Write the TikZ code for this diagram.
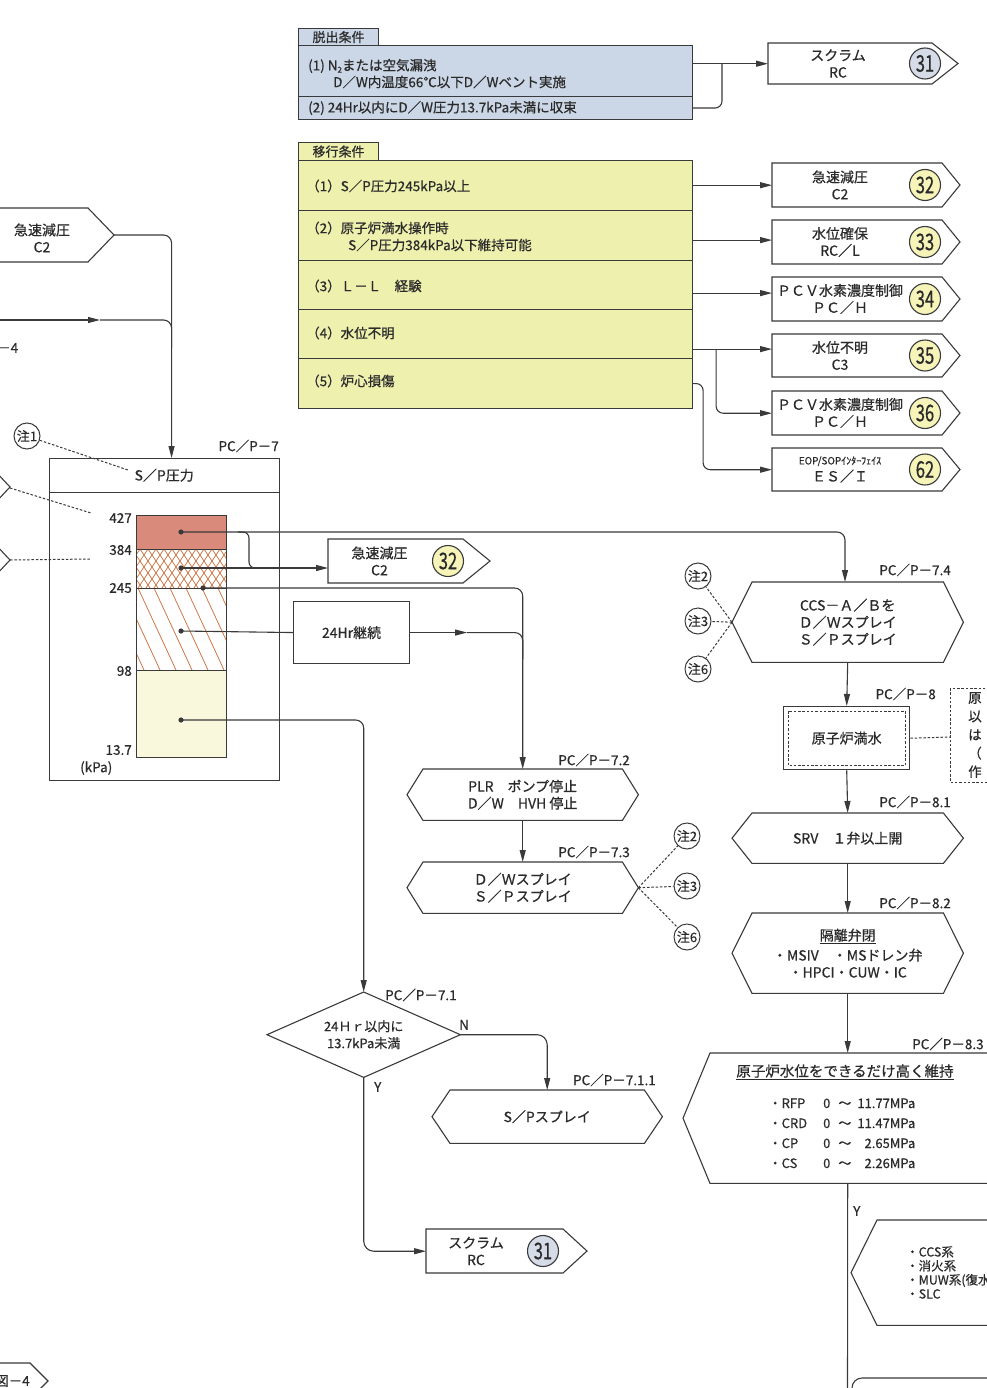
\documentclass[tikz,border=0pt]{standalone}
\usepackage{fontspec}
\usepackage{graphicx}
\setmainfont{Noto Sans CJK JP}[FakeBold=0.5]
\usetikzlibrary{arrows.meta,calc}
\definecolor{lc}{HTML}{3A3A3A}
\definecolor{tc}{HTML}{2A2A2A}
\definecolor{bluef}{HTML}{CBD7E6}
\definecolor{yelf}{HTML}{EEF0AE}
\definecolor{circb}{HTML}{D5DCE8}
\definecolor{circy}{HTML}{F6F4B8}
\definecolor{salmon}{HTML}{D98A7A}
\definecolor{hatch}{HTML}{D07848}
\definecolor{paley}{HTML}{F9F8DC}

\newcommand\offpg[9]{%
  \draw[ln, fill=white] (#2,#3) -- (#4,#3) -- (#6,{(#3+#5)/2}) -- (#4,#5) -- (#2,#5) -- cycle;
  \node[inner sep=0pt, minimum width={(#4-#2)*1pt}, minimum height={(#5-#3)*1pt}, anchor=north west] (#1) at (#2,#3) {};
  \node[txt] (#1-t) at ({(#2+#7-15)/2-1},{(#3+#5)/2}) {#8};
  \ifnum#9=31 \def\cf{circb}\else\def\cf{circy}\fi
  \node[numc, fill=\cf] (#1-n) at (#7,{(#3+#5)/2}) {\fontsize{23}{23}\selectfont\scalebox{0.72}[1]{#9}};
}
\newcommand\hexnode[7]{%
  \node[inner sep=0pt, minimum width={(#4-#2)*1pt}, minimum height={(#5-#3)*1pt}, anchor=north west] (#1) at (#2,#3) {};
  \draw[ln, fill=white] (#1.west) -- ($(#1.north west)+(#6,0)$) -- ($(#1.north east)+(-#6,0)$) -- (#1.east) -- ($(#1.south east)+(-#6,0)$) -- ($(#1.south west)+(#6,0)$) -- cycle;
  \node[txt] (#1-t) at (#1.center) {#7};
}

\begin{document}
\begin{tikzpicture}[x=1pt,y=-1pt,
  ln/.style={draw=lc, line width=1.1pt},
  arr/.style={ln, -{Triangle[length=12pt,width=6pt]}},
  dsh/.style={draw=lc, line width=1pt, dash pattern=on 2.5pt off 1.8pt},
  txt/.style={font=\fontsize{14}{17}\selectfont, text=tc, align=center, inner sep=0pt},
  ltxt/.style={font=\fontsize{13.5}{17}\selectfont, text=tc, align=left, inner sep=0pt, anchor=west},
  lbl/.style={font=\fontsize{13.5}{14}\selectfont, text=tc, inner sep=0pt},
  note/.style={circle, draw=lc, line width=1pt, fill=white, minimum size=26pt, inner sep=0pt, font=\fontsize{13}{12}\selectfont, text=tc},
  numc/.style={circle, draw=lc, line width=1.1pt, minimum size=31pt, inner sep=0pt, text=tc},
  rowbox/.style={draw=lc, line width=1.1pt, minimum width=394pt, inner sep=0pt, anchor=north west},
  tabbox/.style={draw=lc, line width=1.1pt, minimum width=80pt, minimum height=17pt, inner sep=0pt, anchor=north west, font=\fontsize{13}{13}\selectfont, text=tc},
  hl/.style={draw=hatch, line width=0.8pt}]

\useasboundingbox (0,0) rectangle (986,1388);
\fill[white] (0,0) rectangle (986,1388);

% ---------- 脱出条件 ----------
\node[tabbox, fill=bluef] (dtab) at (298,28) {脱出条件};
\node[rowbox, fill=bluef, minimum height=51pt] (e1) at (298,45) {};
\node[rowbox, fill=bluef, minimum height=23pt] (e2) at (298,96) {};
\node[ltxt] (e1a) at (308,66) {(1) N\raisebox{-0.3ex}{\fontsize{8}{8}\selectfont 2}または空気漏洩};
\node[ltxt] (e1b) at (333,82) {D／W内温度66℃以下D／Wベント実施};
\node[ltxt] (e2a) at (308,108) {(2) 24Hr以内にD／W圧力13.7kPa未満に収束};

\offpg{o31a}{768}{43}{932}{84}{958}{925}{スクラム\\RC}{31}
\draw[arr] (e1.east |- o31a.west) -- (o31a.west);
\draw[ln, rounded corners=7pt] (e2.east) -| ($(o31a.west)+(-46,0)$);

% ---------- 移行条件 ----------
\node[tabbox, fill=yelf, minimum height=18pt] (mtab) at (298,142) {移行条件};
\node[rowbox, fill=yelf, minimum height=50pt] (t1) at (298,160) {};
\node[rowbox, fill=yelf, minimum height=50pt] (t2) at (298,210) {};
\node[rowbox, fill=yelf, minimum height=49pt] (t3) at (298,260) {};
\node[rowbox, fill=yelf, minimum height=49pt] (t4) at (298,309) {};
\node[rowbox, fill=yelf, minimum height=50pt] (t5) at (298,358) {};
\node[ltxt] (t1t) at (306,186) {（1）S／P圧力245kPa以上};
\node[ltxt] (t2t) at (306,228) {（2）原子炉満水操作時};
\node[ltxt] (t2u) at (348,245) {S／P圧力384kPa以下維持可能};
\node[ltxt] (t3t) at (306,286) {（3）Ｌ－Ｌ　経験};
\node[ltxt] (t4t) at (306,333) {（4）水位不明};
\node[ltxt] (t5t) at (306,381) {（5）炉心損傷};

\offpg{o32a}{772}{163}{942}{207}{960}{925}{急速減圧\\C2}{32}
\offpg{o33}{772}{220}{942}{264}{960}{925}{水位確保\\RC／L}{33}
\offpg{o34}{772}{277}{942}{321}{960}{925}{ＰＣＶ水素濃度制御\\ＰＣ／Ｈ}{34}
\offpg{o35}{772}{334}{942}{377}{960}{925}{水位不明\\C3}{35}
\offpg{o36}{772}{391}{942}{435}{960}{925}{ＰＣＶ水素濃度制御\\ＰＣ／Ｈ}{36}
\offpg{o62}{772}{448}{942}{491}{960}{925}{{\fontsize{10}{12}\selectfont EOP/SOPｲﾝﾀｰﾌｪｲｽ}\\ＥＳ／Ｉ}{62}

\coordinate (r2o) at ($(t2.south east)+(0,-21)$);
\coordinate (r3o) at ($(t3.south east)+(0,-17)$);
\coordinate (r4o) at ($(t4.south east)+(0,-10)$);
\draw[arr] (t1.east |- o32a.west) -- (o32a.west);
\draw[arr] (r2o) -- (r2o -| o33.west);
\draw[arr] (r3o) -- (r3o -| o34.west);
\draw[arr] (r4o) -- (r4o -| o35.west);
\draw[arr, rounded corners=7pt] ($(r4o)+(23,0)$) |- (o36.west);
\draw[arr, rounded corners=7pt] (t5.east) -- ++(10,0) |- (o62.west);

% ---------- left side ----------
\draw[ln, fill=white] (-30,208) -- (88,208) -- (114,235) -- (88,262) -- (-30,262) -- cycle;
\node[inner sep=0pt, minimum width=118pt, minimum height=54pt, anchor=north west] (ocl) at (-30,208) {};
\coordinate (ocltip) at (114,235);
\node[txt] (oclt) at (42,238) {急速減圧\\C2};
\node[lbl, anchor=west] (m4) at (-3,348) {－4};

\draw[ln, fill=white] (-60,471) -- (-5,471) -- (10,487) -- (-5,503) -- (-60,503) -- cycle;
\coordinate (lf1) at (10,488);
\draw[ln, fill=white] (-60,544) -- (-5,544) -- (10,560) -- (-5,576) -- (-60,576) -- cycle;
\coordinate (lf2) at (10,560);

\node[note] (n1) at (27,436) {注1};

% S/P box
\node[draw=lc, line width=1.1pt, minimum width=230pt, minimum height=322pt, inner sep=0pt, anchor=north west] (spbox) at (49,458) {};
\node[inner sep=0pt, minimum width=230pt, minimum height=34pt, anchor=north west, txt] (sph) at (49,458) {S／P圧力};
\draw[ln] (sph.south west) -- (sph.south east);
\node[lbl, anchor=east] (l7) at (279,446) {PC／P－7};
\coordinate (spin) at ($(spbox.north)+(7,0)$);
\coordinate (spt) at (128,470);
\draw[dsh] (n1) -- (spt);
\draw[dsh] (lf1) -- (91,513);
\draw[dsh] (lf2) -- (91,559);

\draw[arr, rounded corners=8pt] (ocltip) -| (spin);
\coordinate (lin) at (0,320);
\draw[arr] (lin) -- (100,320);
\draw[ln, rounded corners=8pt] (100,320) -| ($(spin)+(0,-110)$);

% bar
\fill[salmon] (136,515) rectangle (226,549);
\fill[paley] (136,670) rectangle (226,757);
\begin{scope}
  \clip (136,549) rectangle (226,588);
  \foreach \i in {0,8,...,160} {\draw[hl] (100+\i,549) -- ++(26,39); \draw[hl] (100+\i,549) -- ++(-26,39);}
\end{scope}
\begin{scope}
  \clip (136,588) rectangle (226,670);
  \foreach \i in {0,16,...,160} {\draw[hl] (90+\i,588) -- ++(38,82);}
\end{scope}
\draw[ln, line width=1pt] (136,515) rectangle (226,757);
\draw[ln, line width=1pt] (136,549) -- (226,549) (136,588) -- (226,588) (136,670) -- (226,670);
\node[lbl, anchor=east] (v427) at (132,518) {427};
\node[lbl, anchor=east] (v384) at (132,550) {384};
\node[lbl, anchor=east] (v245) at (132,588) {245};
\node[lbl, anchor=east] (v98) at (132,671) {98};
\node[lbl, anchor=east] (v137) at (132,750) {13.7};
\node[lbl, anchor=west] (vkpa) at (80,768) {(kPa)};

\fill[lc] (181,532) circle (2.6) coordinate (d1);
\fill[lc] (181,568) circle (2.6) coordinate (d2);
\fill[lc] (203,588) circle (2.6) coordinate (d3);
\fill[lc] (181,631) circle (2.6) coordinate (d4);
\fill[lc] (181,720) circle (2.6) coordinate (d5);

% middle column
\offpg{o32b}{328}{539}{463}{583}{490}{448}{急速減圧\\C2}{32}
\node[draw=lc, line width=1.1pt, minimum width=116pt, minimum height=62pt, inner sep=0pt, anchor=north west, txt] (b24) at (293,601) {24Hr継続};

\hexnode{h72}{407}{769}{638}{820}{16}{PLR　ポンプ停止\\D／W　HVH 停止}
\hexnode{h73}{407}{862}{638}{913}{16}{Ｄ／Ｗスプレイ\\Ｓ／Ｐスプレイ}
\node[lbl, anchor=east] (l72) at (630,760) {PC／P－7.2};
\node[lbl, anchor=east] (l73) at (630,852) {PC／P－7.3};
\node[note] (n2b) at (687,836) {注2};
\node[note] (n3b) at (687,886) {注3};
\node[note] (n6b) at (687,937) {注6};
\draw[dsh] (h73.east) -- (n2b);
\draw[dsh] (h73.east) -- (n3b);
\draw[dsh] (h73.east) -- (n6b);

% diamond
\node[inner sep=0pt, minimum width=193pt, minimum height=85pt, anchor=north west] (dia) at (267,992) {};
\draw[ln, fill=white] (dia.west) -- (dia.north) -- (dia.east) -- (dia.south) -- cycle;
\node[txt, font=\fontsize{13}{17}\selectfont] (diat) at (dia.center) {24Ｈｒ以内に\\13.7kPa未満};
\node[lbl, anchor=west] (l71) at (385,995) {PC／P－7.1};
\node[lbl, anchor=south west] (lN) at (459,1030) {N};
\node[lbl, anchor=west] (lY) at (374,1087) {Y};

\hexnode{h711}{432}{1090}{662}{1143}{18}{S／Pスプレイ}
\node[lbl, anchor=east] (l711) at (656,1080) {PC／P－7.1.1};
\offpg{o31b}{426}{1229}{563}{1273}{587}{543}{スクラム\\RC}{31}

% connectors from the bar
\draw[arr, rounded corners=8pt] (d1) -| (845,582) coordinate (h74in);
\draw[ln, rounded corners=6pt] (238,532) -- (249,532) -- (249,568) -- (262,568);
\draw[arr] (d2) -- (d2 -| o32b.west);
\draw[arr, rounded corners=8pt] (d3) -| (h72.north);
\draw[ln] (d4) -- (b24.west);
\draw[arr] (b24.east) -- ($(b24.east)+(57,0)$);
\draw[ln, rounded corners=8pt] ($(b24.east)+(57,0)$) -| ($(h72.north)+(0,-110)$);
\draw[arr, rounded corners=8pt] (d5) -| (dia.north);
\draw[arr] (h72.south) -- (h73.north);
\draw[arr, rounded corners=10pt] (dia.east) -| (h711.north);
\draw[arr, rounded corners=10pt] (dia.south) |- (o31b.west);

% ---------- right column ----------
\hexnode{h74}{732}{582}{963}{662}{20}{CCS－Ａ／Ｂを\\Ｄ／Ｗスプレイ\\Ｓ／Ｐスプレイ}
\node[lbl, anchor=east] (l74) at (951,570) {PC／P－7.4};
\node[note] (n2a) at (698,576) {注2};
\node[note] (n3a) at (698,621) {注3};
\node[note] (n6a) at (698,669) {注6};
\draw[dsh] (h74.west) -- (n2a);
\draw[dsh] (h74.west) -- (n3a);
\draw[dsh] (h74.west) -- (n6a);

\node[draw=lc, line width=1.4pt, minimum width=126pt, minimum height=63pt, inner sep=0pt, anchor=north west, txt] (b8) at (783,706) {原子炉満水};
\draw[dsh] ($(b8.north west)+(5,5)$) rectangle ($(b8.south east)+(-5,-5)$);
\node[lbl, anchor=east] (l8) at (936,694) {PC／P－8};
\draw[dsh] (950,688) rectangle (1050,782);
\node[txt, align=left, anchor=north west, font=\fontsize{13.5}{18.5}\selectfont] (ptx) at (968,692) {原\\以\\は\\（\\作};
\draw[dsh] (b8.east) -- (950,737);

\hexnode{h81}{732}{813}{963}{863}{20}{SRV　１弁以上開}
\node[lbl, anchor=east] (l81) at (951,802) {PC／P－8.1};
\hexnode{h82}{732}{913}{963}{993}{20}{\underline{隔離弁閉}\\[3pt]・MSIV　・MSドレン弁\\・HPCI・CUW・IC}
\node[lbl, anchor=east] (l82) at (951,903) {PC／P－8.2};

\draw[arr] (h74.south) -- (b8.north);
\draw[arr] (b8.south) -- (h81.north);
\draw[arr] (h81.south) -- (h82.north);

% PC/P-8.3 (partial)
\node[inner sep=0pt, minimum width=330pt, minimum height=130pt, anchor=north west] (h83) at (683,1053) {};
\draw[ln, fill=white] (h83.north east) -- ($(h83.north west)+(27,0)$) -- (h83.west) -- ($(h83.south west)+(27,0)$) -- (h83.south east);
\node[lbl, anchor=west] (l83) at (912,1044) {PC／P－8.3};
\draw[arr] (h82.south) -- (h82.south |- h83.north);
\node[txt, font=\fontsize{14.5}{17}\selectfont] (h83h) at (845,1072) {\underline{原子炉水位をできるだけ高く維持}};
\node[font=\fontsize{13}{20}\selectfont, text=tc, inner sep=0pt] (h83l) at (842,1134) {\begin{tabular}{@{}l@{\hspace{16pt}}l@{\hspace{8pt}}l@{\hspace{6pt}}r@{}}・RFP & 0 & ～ & 11.77MPa\\ ・CRD & 0 & ～ & 11.47MPa\\ ・CP & 0 & ～ & 2.65MPa\\ ・CS & 0 & ～ & 2.26MPa\end{tabular}};

\coordinate (bot) at (847.5,1395);
\draw[ln] (h82.south |- h83.south) -- (bot);
\node[lbl, anchor=west] (lY2) at (853,1211) {Y};

\node[inner sep=0pt, minimum width=160pt, minimum height=105pt, anchor=north west] (h9) at (851,1220) {};
\draw[ln, fill=white] (h9.north east) -- ($(h9.north west)+(26,0)$) -- (h9.west) -- ($(h9.south west)+(26,0)$) -- (h9.south east);
\node[txt, align=left, anchor=north west, font=\fontsize{12.5}{14}\selectfont] (h9t) at (906,1246) {・CCS系\\・消火系\\・MUW系(復水\\・SLC};

\draw[ln, rounded corners=10pt] (852,1398) -- (852,1378) -- (1010,1378);

% bottom-left partial connector
\draw[ln, fill=white] (-40,1363) -- (30,1363) -- (48,1381) -- (30,1399) -- (-40,1399) -- cycle;
\node[lbl, anchor=west] (z4) at (-5,1381) {図－4};

\end{tikzpicture}
\end{document}
